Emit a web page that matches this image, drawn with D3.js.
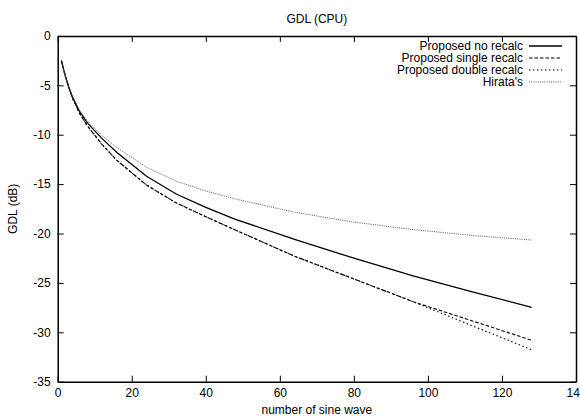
<!DOCTYPE html>
<html>
<head>
<meta charset="utf-8">
<script src="https://cdn.jsdelivr.net/npm/d3@7"></script>
<style>
  html, body { margin: 0; padding: 0; background: #fff; }
  svg { display: block; font-family: "Liberation Sans", Arial, Helvetica, sans-serif; }
</style>
</head>
<body>
<svg id="chart" width="580" height="416"></svg>
<script>
// ---- data ----
const xValues      = [1, 2, 3, 4, 6, 8, 12, 16, 24, 32, 40, 48, 64, 80, 96, 112, 128];
const noRecalc     = [-2.5, -4.0, -5.2, -6.2, -7.7, -8.8, -10.4, -11.8, -14.2, -16.0, -17.35, -18.56, -20.6, -22.5, -24.3, -25.9, -27.47];
const singleRecalc = [-2.5, -4.0, -5.2, -6.3, -7.9, -9.1, -11.0, -12.6, -15.1, -16.9, -18.3, -19.65, -22.3, -24.6, -26.9, -28.85, -30.8];
const doubleRecalc = [-2.5, -4.0, -5.2, -6.3, -7.9, -9.1, -11.0, -12.6, -15.1, -16.9, -18.3, -19.65, -22.3, -24.6, -26.9, -29.35, -31.76];
const hirata       = [-2.5, -4.0, -5.2, -6.2, -7.6, -8.6, -10.1, -11.3, -13.3, -14.7, -15.7, -16.5, -17.85, -18.85, -19.6, -20.2, -20.66];
const seriesNames  = ["Proposed no recalc", "Proposed single recalc", "Proposed double recalc", "Hirata's"];
const xTicks = [0, 20, 40, 60, 80, 100, 120, 140];
const yTicks = [-35, -30, -25, -20, -15, -10, -5, 0];
const titleText = "GDL (CPU)";
const xLabelText = "number of sine wave";
const yLabelText = "GDL (dB)";

// ---- layout ----
const svg = d3.select("#chart");
const mLeft = 57.7, mRight = 576, mTop = 35.9, mBottom = 381.7;
const x = d3.scaleLinear().domain([0, 140]).range([mLeft, mRight]);
const y = d3.scaleLinear().domain([-35, 0]).range([mBottom, mTop]);
const fontSize = 12;

const styles = [
  { dash: null,      color: "#000", width: 1.3 },
  { dash: "3.5,2",   color: "#000", width: 1.1 },
  { dash: "1.5,2.5", color: "#000", width: 1.1 },
  { dash: "1,1.2",   color: "#555", width: 1.0 }
];
const allSeries = [noRecalc, singleRecalc, doubleRecalc, hirata];

// axes
const fmt = d => String(d);
const bottomAxis = d3.axisBottom(x).tickValues(xTicks).tickFormat(fmt).tickSizeInner(-6).tickSizeOuter(0).tickPadding(7);
const topAxis = d3.axisTop(x).tickValues(xTicks).tickFormat("").tickSizeInner(-6).tickSizeOuter(0);
const leftAxis = d3.axisLeft(y).tickValues(yTicks).tickFormat(fmt).tickSizeInner(-6).tickSizeOuter(0).tickPadding(7);
const rightAxis = d3.axisRight(y).tickValues(yTicks).tickFormat("").tickSizeInner(-6).tickSizeOuter(0);

function styleAxis(g) {
  g.selectAll("path.domain").attr("stroke", "#000").attr("stroke-width", 1.5);
  g.selectAll(".tick line").attr("stroke", "#000").attr("stroke-width", 1);
  g.selectAll(".tick text").attr("fill", "#000").style("font-size", fontSize + "px")
    .style("font-family", '"Liberation Sans", Arial, sans-serif');
}

svg.append("g").attr("transform", `translate(0,${mBottom})`).call(bottomAxis).call(styleAxis);
svg.append("g").attr("transform", `translate(0,${mTop})`).call(topAxis).call(styleAxis);
svg.append("g").attr("transform", `translate(${mLeft},0)`).call(leftAxis).call(styleAxis);
svg.append("g").attr("transform", `translate(${mRight},0)`).call(rightAxis).call(styleAxis);

// lines
const line = d3.line().x((d, i) => x(xValues[i])).y(d => y(d));
allSeries.forEach((s, k) => {
  svg.append("path")
    .datum(s)
    .attr("fill", "none")
    .attr("stroke", styles[k].color)
    .attr("stroke-width", styles[k].width)
    .attr("stroke-dasharray", styles[k].dash)
    .attr("d", line);
});

// legend
const legendTextRight = 523, lineX1 = 529, lineX2 = 562;
seriesNames.forEach((name, k) => {
  const yy = 46 + k * 12;
  svg.append("text")
    .attr("x", legendTextRight).attr("y", yy)
    .attr("dy", "0.35em")
    .attr("text-anchor", "end")
    .style("font-size", fontSize + "px")
    .text(name);
  svg.append("line")
    .attr("x1", lineX1).attr("x2", lineX2)
    .attr("y1", yy).attr("y2", yy)
    .attr("stroke", styles[k].color)
    .attr("stroke-width", styles[k].width)
    .attr("stroke-dasharray", styles[k].dash);
});

// title & axis labels
svg.append("text").attr("x", (mLeft + mRight) / 2).attr("y", 22.5)
  .attr("text-anchor", "middle").style("font-size", fontSize + "px").text(titleText);
svg.append("text").attr("x", (mLeft + mRight) / 2).attr("y", 414)
  .attr("text-anchor", "middle").style("font-size", fontSize + "px").text(xLabelText);
svg.append("text")
  .attr("transform", `translate(17,${(mTop + mBottom) / 2}) rotate(-90)`)
  .attr("text-anchor", "middle").style("font-size", fontSize + "px").text(yLabelText);
</script>
</body>
</html>
